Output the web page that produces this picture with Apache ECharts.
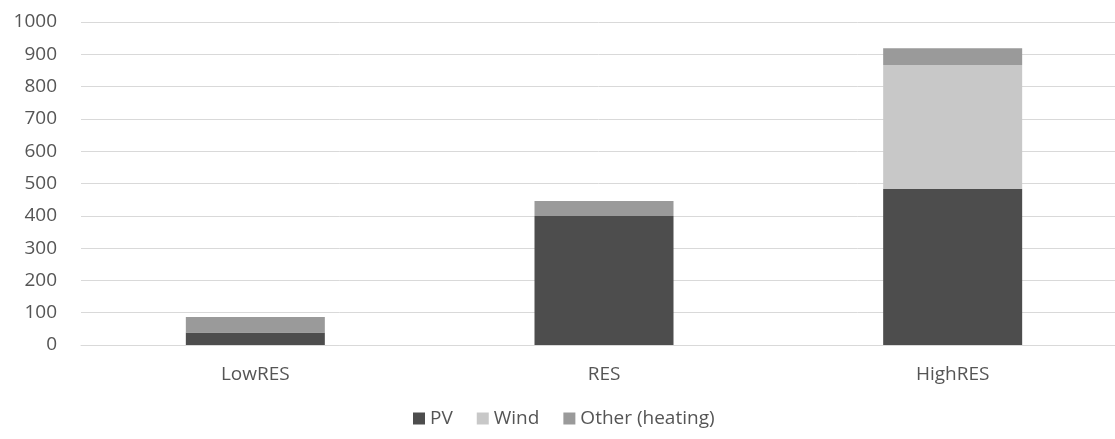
<!DOCTYPE html>
<html>
<head>
<meta charset="utf-8">
<script src="https://cdn.jsdelivr.net/npm/echarts@6/dist/echarts.min.js"></script>
<style>
html,body{margin:0;padding:0;background:#fff;}
#chart{width:1115px;height:439px;}
</style>
</head>
<body>
<div id="chart"></div>
<script>
const categories = ['LowRES', 'RES', 'HighRES'];
const pvValues = [39, 399, 483];
const windValues = [0, 0, 384];
const otherValues = [48, 47, 52];
const yTicks = { min: 0, max: 1000, interval: 100 };

const font = 'Open Sans';
const textColor = '#555555';
const chart = echarts.init(document.getElementById('chart'));
chart.setOption({
  animation: false,
  backgroundColor: '#fff',
  textStyle: { fontFamily: font },
  grid: { left: 81, width: 1046, top: 22, bottom: 94, outerBoundsMode: 'none', containLabel: false },
  legend: {
    bottom: 6,
    left: 408,
    itemWidth: 12,
    itemHeight: 12,
    itemGap: 24,
    icon: 'rect',
    textStyle: { color: textColor, fontSize: 19, fontFamily: font },
    data: ['PV', 'Wind', 'Other (heating)']
  },
  xAxis: {
    type: 'category',
    data: categories,
    axisLine: { lineStyle: { color: '#d9d9d9', width: 1 } },
    axisTick: { show: false },
    axisLabel: { color: textColor, fontSize: 19, margin: 20, fontFamily: font }
  },
  yAxis: {
    type: 'value',
    min: yTicks.min, max: yTicks.max, interval: yTicks.interval,
    axisLine: { show: false },
    axisTick: { show: false },
    splitLine: { lineStyle: { color: '#d9d9d9', width: 1 } },
    axisLabel: { color: textColor, fontSize: 19, margin: 24, fontFamily: font, formatter: v => String(v) }
  },
  series: [
    { name: 'PV', type: 'bar', stack: 't', data: pvValues, barWidth: 139, itemStyle: { color: '#4d4d4d' } },
    { name: 'Wind', type: 'bar', stack: 't', data: windValues, barWidth: 139, itemStyle: { color: '#c8c8c8' } },
    { name: 'Other (heating)', type: 'bar', stack: 't', data: otherValues, barWidth: 139, itemStyle: { color: '#9a9a9a' } }
  ]
});
</script>
</body>
</html>
